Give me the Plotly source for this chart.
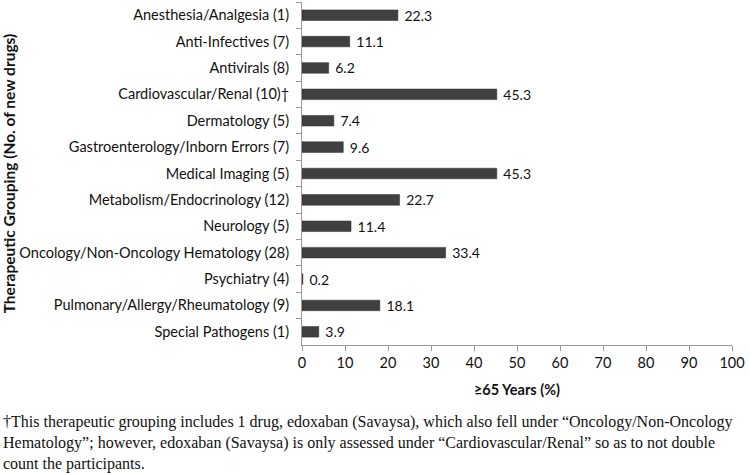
import plotly.graph_objects as go

categories = [
    "Anesthesia/Analgesia (1)",
    "Anti-Infectives (7)",
    "Antivirals (8)",
    "Cardiovascular/Renal (10)†",
    "Dermatology (5)",
    "Gastroenterology/Inborn Errors (7)",
    "Medical Imaging (5)",
    "Metabolism/Endocrinology (12)",
    "Neurology (5)",
    "Oncology/Non-Oncology Hematology (28)",
    "Psychiatry (4)",
    "Pulmonary/Allergy/Rheumatology (9)",
    "Special Pathogens (1)",
]
values = [22.3, 11.1, 6.2, 45.3, 7.4, 9.6, 45.3, 22.7, 11.4, 33.4, 0.2, 18.1, 3.9]
x_ticks = [0, 10, 20, 30, 40, 50, 60, 70, 80, 90, 100]

W, H = 750, 474
L, R, T, B = 302, 18, 2, 129
pw = W - L - R
ph = H - T - B

font_sans = "Lato, 'Open Sans', sans-serif"

fig = go.Figure(go.Bar(
    y=categories, x=values, orientation="h",
    marker=dict(color="#404040", line=dict(color="#2a2a2a", width=0.5)),
    text=[f"\u00a0{v:.1f}" for v in values], textposition="outside",
    constraintext="none",
    textfont=dict(family=font_sans, size=14, color="#111"),
    cliponaxis=False,
))

footnote = ("†This therapeutic grouping includes 1 drug, edoxaban (Savaysa), which also fell under “Oncology/Non-Oncology<br>"
            "Hematology”; however, edoxaban (Savaysa) is only assessed under “Cardiovascular/Renal” so as to not double<br>"
            "count the participants.")

fig.update_layout(
    width=W, height=H,
    margin=dict(l=L, r=R, t=T, b=B),
    paper_bgcolor="white", plot_bgcolor="white",
    bargap=0.6, showlegend=False,
    font=dict(family=font_sans, size=14, color="#111"),
    xaxis=dict(range=[0, 100], tickvals=x_ticks, showgrid=False, zeroline=False,
               showline=True, linecolor="#999", linewidth=1,
               ticks="outside", ticklen=5, tickcolor="#999",
               tickfont=dict(family=font_sans, size=14.5, color="#111"),
               title=dict(text="<b>≥65 Years (%)</b>", font=dict(family=font_sans, size=14.5, color="#111"), standoff=14)),
    yaxis=dict(autorange="reversed", showgrid=False, showline=True, linecolor="#999", linewidth=1,
               ticks="outside", ticklen=5, tickcolor="#999", tickson="boundaries",
               ticklabelstandoff=9,
               tickfont=dict(family=font_sans, size=14.5, color="#111"),
               title=dict(text="<b>Therapeutic Grouping (No. of new drugs)</b>",
                          font=dict(family=font_sans, size=15.5, color="#111"), standoff=6)),
    annotations=[dict(
        text=footnote, xref="paper", yref="paper",
        x=(1 - L) / pw, y=-(411 - T - ph) / ph,
        xanchor="left", yanchor="top", align="left", showarrow=False,
        font=dict(family="'Liberation Serif', 'Times New Roman', serif", size=16, color="#111"),
    )],
)

fig.write_html("out.html", config={"displayModeBar": False},
               post_script="document.body.style.margin='0';")
